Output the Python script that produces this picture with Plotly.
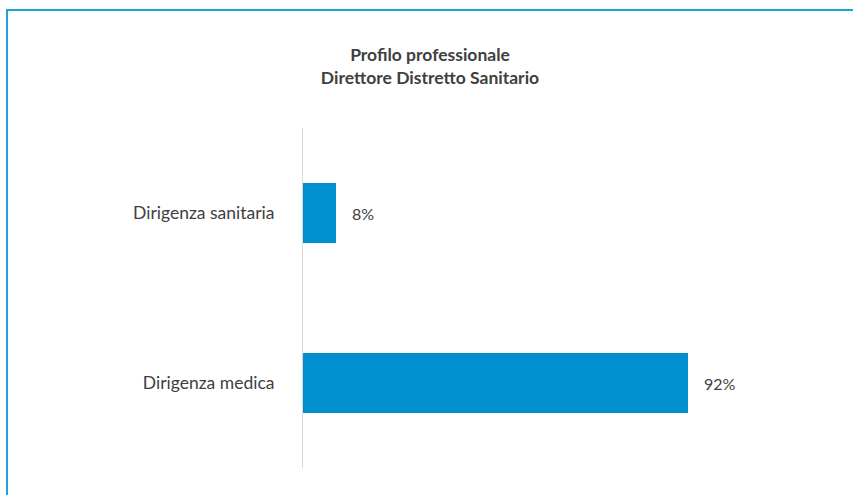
import plotly.graph_objects as go

# Data
categories = ["Dirigenza medica", "Dirigenza sanitaria"]
values = [92, 8]
value_labels = ["92%", "8%"]

W, H = 853, 495
L, R, T, B = 303, 132, 128, 27
plot_w = W - L - R
plot_h = H - T - B

bar_color = "#0090D0"
text_color = "#404040"
font_family = "Lato, Open Sans, Liberation Sans, Arial, sans-serif"

fig = go.Figure()
fig.add_trace(go.Bar(
    x=values,
    y=categories,
    orientation="h",
    marker=dict(color=bar_color, line=dict(width=0)),
    width=0.35,
    hoverinfo="skip",
))

# Value labels to the right of each bar
for v, c, lab in zip(values, categories, value_labels):
    fig.add_annotation(
        x=v, y=c, text=lab, showarrow=False,
        xanchor="left", yanchor="middle", xshift=14,
        font=dict(size=16, color=text_color, family=font_family),
    )

# Frame around the chart (pixel positions converted to paper coordinates)
def px_to_paper_x(px):
    return (px - L) / plot_w

def px_to_paper_y(py):
    return (H - B - py) / plot_h

fig.add_shape(
    type="rect", xref="paper", yref="paper",
    x0=px_to_paper_x(7), x1=px_to_paper_x(W + 50),
    y0=px_to_paper_y(H + 50), y1=px_to_paper_y(10),
    line=dict(color="#1CA3DF", width=2),
    fillcolor="rgba(0,0,0,0)",
    layer="below",
)

fig.update_layout(
    width=W, height=H,
    margin=dict(l=L, r=R, t=T, b=B),
    paper_bgcolor="white",
    plot_bgcolor="white",
    showlegend=False,
    title=dict(
        text="<b>Profilo professionale<br>Direttore Distretto Sanitario</b>",
        xref="container", yref="container",
        x=430 / W, y=1 - 61 / H,
        xanchor="center", yanchor="top",
        font=dict(size=17.5, color=text_color, family=font_family),
    ),
    xaxis=dict(
        range=[0, 100],
        showgrid=False, zeroline=False,
        showticklabels=False, showline=False, ticks="",
        fixedrange=True,
    ),
    yaxis=dict(
        range=[-0.5, 1.5],
        categoryorder="array", categoryarray=categories,
        showgrid=False, zeroline=False,
        showline=True, linecolor="#D9D9D9", linewidth=1,
        ticks="", ticklabelstandoff=24,
        tickfont=dict(size=17.5, color=text_color, family=font_family),
        fixedrange=True,
    ),
    bargap=0,
)

fig.write_html("out.html")
